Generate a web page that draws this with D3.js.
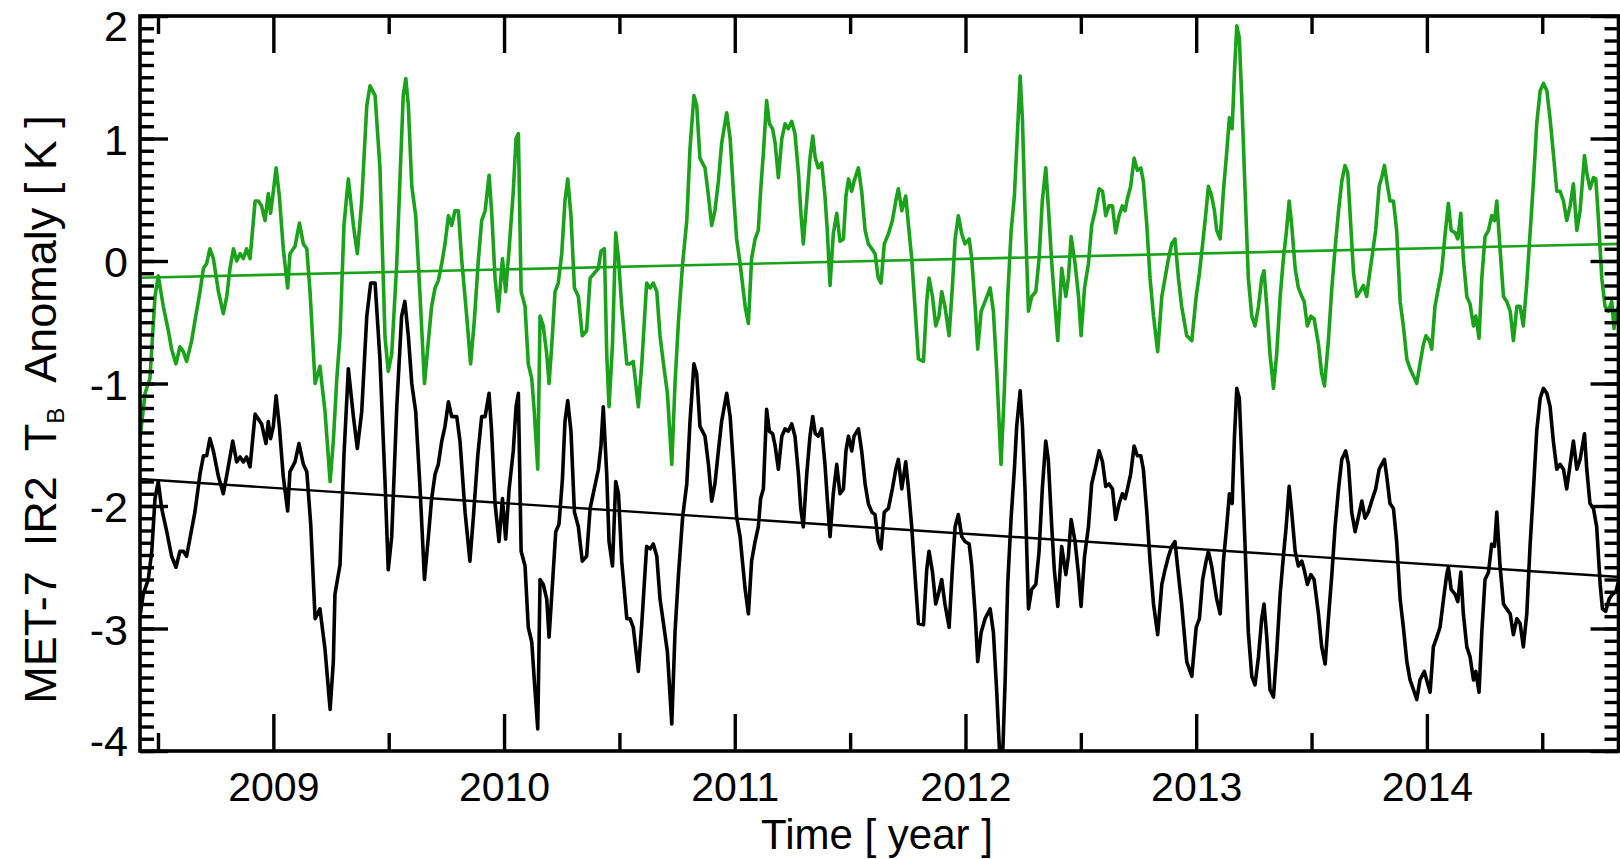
<!DOCTYPE html>
<html>
<head>
<meta charset="utf-8">
<script src="https://cdn.jsdelivr.net/npm/d3@7"></script>
<style>
  body { margin: 0; background: #fff; }
  svg { display: block; font-family: "Liberation Sans", Arial, Helvetica, sans-serif; }
</style>
</head>
<body>
<div id="chart"></div>
<script>
// [decimal year, anomaly K]
const greenSeries = [
  [2008.422,-1.45],[2008.444,-1.08],[2008.465,-0.96],[2008.487,-0.29],[2008.501,-0.12],[2008.523,-0.37],
  [2008.545,-0.57],[2008.559,-0.72],[2008.578,-0.84],[2008.595,-0.70],[2008.610,-0.74],[2008.624,-0.82],
  [2008.646,-0.65],[2008.660,-0.49],[2008.682,-0.25],[2008.697,-0.06],[2008.711,-0.02],[2008.725,0.10],
  [2008.740,0.02],[2008.762,-0.25],[2008.783,-0.43],[2008.798,-0.29],[2008.812,-0.06],[2008.827,0.10],
  [2008.841,0.00],[2008.856,0.06],[2008.870,0.02],[2008.884,0.10],[2008.899,0.02],[2008.921,0.49],
  [2008.935,0.49],[2008.949,0.45],[2008.964,0.33],[2008.978,0.55],[2008.988,0.39],[2009.000,0.57],
  [2009.012,0.76],[2009.026,0.53],[2009.043,0.10],[2009.062,-0.22],[2009.072,0.06],[2009.094,0.12],
  [2009.113,0.31],[2009.130,0.14],[2009.145,0.10],[2009.159,-0.25],[2009.181,-1.00],[2009.202,-0.86],
  [2009.224,-1.23],[2009.246,-1.80],[2009.260,-1.47],[2009.275,-0.96],[2009.289,-0.61],[2009.306,0.29],
  [2009.325,0.67],[2009.347,0.29],[2009.364,0.06],[2009.383,0.49],[2009.405,1.27],[2009.419,1.43],
  [2009.441,1.35],[2009.462,0.76],[2009.484,-0.62],[2009.498,-0.90],[2009.513,-0.76],[2009.535,-0.02],
  [2009.549,0.68],[2009.563,1.35],[2009.574,1.49],[2009.585,1.27],[2009.600,0.61],[2009.617,0.37],
  [2009.636,-0.29],[2009.655,-1.00],[2009.672,-0.65],[2009.686,-0.37],[2009.701,-0.22],[2009.715,-0.16],
  [2009.730,-0.02],[2009.744,0.14],[2009.759,0.37],[2009.773,0.29],[2009.787,0.41],[2009.802,0.41],
  [2009.816,0.02],[2009.838,-0.45],[2009.855,-0.84],[2009.871,-0.49],[2009.889,0.02],[2009.903,0.33],
  [2009.918,0.41],[2009.935,0.70],[2009.946,0.41],[2009.961,-0.14],[2009.975,-0.41],[2009.993,0.02],
  [2010.007,-0.25],[2010.022,0.10],[2010.040,0.57],[2010.052,1.00],[2010.062,1.04],[2010.074,-0.25],
  [2010.091,-0.37],[2010.105,-0.84],[2010.120,-0.96],[2010.131,-1.23],[2010.146,-1.70],[2010.156,-0.45],
  [2010.170,-0.53],[2010.185,-0.76],[2010.195,-1.00],[2010.207,-0.68],[2010.221,-0.25],[2010.235,-0.18],
  [2010.250,0.06],[2010.264,0.49],[2010.276,0.67],[2010.290,0.37],[2010.305,-0.22],[2010.322,-0.29],
  [2010.339,-0.61],[2010.358,-0.57],[2010.373,-0.14],[2010.391,-0.10],[2010.409,-0.06],[2010.420,0.08],
  [2010.435,0.10],[2010.445,-0.76],[2010.455,-1.19],[2010.470,-0.68],[2010.484,0.23],[2010.496,0.02],
  [2010.510,-0.37],[2010.532,-0.84],[2010.546,-0.84],[2010.560,-0.82],[2010.582,-1.19],[2010.597,-0.84],
  [2010.618,-0.18],[2010.633,-0.22],[2010.647,-0.18],[2010.662,-0.25],[2010.676,-0.61],[2010.691,-0.84],
  [2010.708,-1.08],[2010.727,-1.66],[2010.741,-1.00],[2010.756,-0.49],[2010.774,-0.02],[2010.792,0.33],
  [2010.806,0.92],[2010.823,1.35],[2010.835,1.27],[2010.849,0.84],[2010.871,0.76],[2010.886,0.53],
  [2010.900,0.29],[2010.914,0.41],[2010.929,0.65],[2010.943,0.96],[2010.965,1.21],[2010.980,1.00],
  [2010.994,0.57],[2011.008,0.18],[2011.023,-0.02],[2011.045,-0.37],[2011.059,-0.51],[2011.073,0.02],
  [2011.088,0.18],[2011.102,0.25],[2011.112,0.57],[2011.124,0.88],[2011.138,1.31],[2011.150,1.12],
  [2011.164,1.08],[2011.175,0.96],[2011.189,0.68],[2011.204,1.00],[2011.218,1.12],[2011.232,1.08],
  [2011.247,1.14],[2011.261,1.04],[2011.276,0.72],[2011.286,0.41],[2011.297,0.14],[2011.312,0.49],
  [2011.326,0.84],[2011.338,1.02],[2011.349,0.84],[2011.362,0.76],[2011.377,0.80],[2011.391,0.53],
  [2011.401,0.25],[2011.413,-0.20],[2011.427,0.22],[2011.442,0.39],[2011.456,0.16],[2011.471,0.18],
  [2011.482,0.53],[2011.493,0.67],[2011.507,0.57],[2011.517,0.65],[2011.536,0.76],[2011.550,0.57],
  [2011.565,0.25],[2011.579,0.14],[2011.594,0.10],[2011.608,0.06],[2011.622,-0.14],[2011.634,-0.18],
  [2011.648,0.14],[2011.666,0.22],[2011.683,0.33],[2011.698,0.49],[2011.709,0.59],[2011.724,0.41],
  [2011.741,0.53],[2011.753,0.29],[2011.767,0.02],[2011.781,-0.37],[2011.796,-0.80],[2011.818,-0.82],
  [2011.832,-0.33],[2011.842,-0.14],[2011.857,-0.29],[2011.871,-0.53],[2011.885,-0.45],[2011.897,-0.25],
  [2011.911,-0.37],[2011.929,-0.61],[2011.943,-0.22],[2011.955,0.18],[2011.969,0.37],[2011.984,0.22],
  [2011.998,0.14],[2012.016,0.18],[2012.027,0.02],[2012.042,-0.37],[2012.053,-0.72],[2012.068,-0.41],
  [2012.085,-0.33],[2012.107,-0.22],[2012.121,-0.41],[2012.135,-0.88],[2012.154,-1.66],[2012.168,-1.08],
  [2012.183,-0.29],[2012.198,0.25],[2012.212,0.53],[2012.222,0.92],[2012.237,1.51],[2012.247,1.15],
  [2012.258,0.41],[2012.273,-0.41],[2012.287,-0.29],[2012.305,-0.25],[2012.319,0.02],[2012.333,0.49],
  [2012.348,0.76],[2012.359,0.45],[2012.374,-0.02],[2012.385,-0.29],[2012.400,-0.65],[2012.417,-0.06],
  [2012.435,-0.29],[2012.446,-0.14],[2012.458,0.20],[2012.475,-0.02],[2012.490,-0.29],[2012.501,-0.61],
  [2012.516,-0.22],[2012.533,-0.02],[2012.547,0.29],[2012.562,0.41],[2012.579,0.59],[2012.594,0.57],
  [2012.608,0.37],[2012.622,0.45],[2012.637,0.45],[2012.651,0.23],[2012.666,0.37],[2012.680,0.45],
  [2012.692,0.41],[2012.702,0.51],[2012.716,0.61],[2012.731,0.84],[2012.745,0.74],[2012.760,0.76],
  [2012.771,0.65],[2012.786,0.29],[2012.800,-0.14],[2012.815,-0.45],[2012.833,-0.74],[2012.851,-0.29],
  [2012.865,-0.14],[2012.880,0.02],[2012.894,0.14],[2012.908,0.18],[2012.923,-0.14],[2012.937,-0.37],
  [2012.959,-0.61],[2012.981,-0.65],[2013.000,-0.29],[2013.014,-0.10],[2013.028,0.14],[2013.043,0.41],
  [2013.053,0.61],[2013.067,0.53],[2013.079,0.41],[2013.089,0.25],[2013.104,0.18],[2013.118,0.57],
  [2013.132,0.88],[2013.144,1.17],[2013.156,1.08],[2013.166,1.55],[2013.176,1.92],[2013.187,1.82],
  [2013.197,1.35],[2013.212,0.57],[2013.226,-0.14],[2013.241,-0.45],[2013.255,-0.53],[2013.270,-0.37],
  [2013.284,-0.14],[2013.294,-0.08],[2013.306,-0.37],[2013.320,-0.76],[2013.335,-1.04],[2013.349,-0.76],
  [2013.364,-0.29],[2013.378,0.02],[2013.390,0.22],[2013.403,0.49],[2013.414,0.29],[2013.429,-0.06],
  [2013.443,-0.22],[2013.458,-0.29],[2013.468,-0.33],[2013.482,-0.53],[2013.497,-0.45],[2013.511,-0.47],
  [2013.530,-0.68],[2013.544,-0.92],[2013.556,-1.02],[2013.573,-0.65],[2013.588,-0.22],[2013.602,0.10],
  [2013.617,0.41],[2013.631,0.65],[2013.645,0.78],[2013.657,0.72],[2013.670,0.29],[2013.682,-0.10],
  [2013.696,-0.29],[2013.710,-0.25],[2013.725,-0.20],[2013.739,-0.29],[2013.746,-0.18],[2013.764,0.06],
  [2013.778,0.25],[2013.793,0.61],[2013.804,0.68],[2013.816,0.78],[2013.826,0.65],[2013.840,0.49],
  [2013.855,0.49],[2013.869,0.25],[2013.884,-0.33],[2013.898,-0.53],[2013.913,-0.80],[2013.927,-0.88],
  [2013.942,-0.94],[2013.956,-1.00],[2013.970,-0.84],[2013.985,-0.68],[2013.996,-0.61],[2014.011,-0.65],
  [2014.021,-0.72],[2014.035,-0.37],[2014.050,-0.22],[2014.064,-0.08],[2014.079,0.22],[2014.093,0.47],
  [2014.105,0.25],[2014.122,0.23],[2014.134,0.18],[2014.147,0.39],[2014.158,0.02],[2014.173,-0.29],
  [2014.187,-0.35],[2014.202,-0.53],[2014.212,-0.45],[2014.226,-0.63],[2014.238,-0.14],[2014.252,0.20],
  [2014.267,0.25],[2014.281,0.37],[2014.293,0.33],[2014.303,0.49],[2014.317,0.10],[2014.332,-0.29],
  [2014.346,-0.33],[2014.361,-0.41],[2014.375,-0.65],[2014.390,-0.37],[2014.404,-0.37],[2014.418,-0.53],
  [2014.433,-0.18],[2014.447,0.22],[2014.462,0.65],[2014.476,1.12],[2014.491,1.39],[2014.505,1.45],
  [2014.520,1.39],[2014.534,1.16],[2014.548,0.88],[2014.563,0.57],[2014.577,0.57],[2014.592,0.49],
  [2014.606,0.33],[2014.621,0.45],[2014.635,0.63],[2014.650,0.25],[2014.664,0.41],[2014.683,0.86],
  [2014.693,0.72],[2014.707,0.59],[2014.722,0.68],[2014.732,0.67],[2014.744,0.33],[2014.758,-0.14],
  [2014.772,-0.37],[2014.787,-0.41],[2014.801,-0.33],[2014.811,-0.55],[2014.823,-0.40],[2014.837,-0.35]
];

const blackSeries = [
  [2008.422,-2.90],[2008.436,-2.72],[2008.458,-2.60],[2008.473,-2.37],[2008.487,-1.94],[2008.501,-1.80],
  [2008.516,-2.02],[2008.538,-2.21],[2008.559,-2.41],[2008.578,-2.50],[2008.595,-2.37],[2008.610,-2.37],
  [2008.624,-2.41],[2008.646,-2.19],[2008.660,-2.05],[2008.682,-1.74],[2008.697,-1.59],[2008.711,-1.59],
  [2008.725,-1.45],[2008.740,-1.55],[2008.762,-1.76],[2008.783,-1.90],[2008.801,-1.72],[2008.824,-1.47],
  [2008.841,-1.64],[2008.856,-1.60],[2008.870,-1.64],[2008.884,-1.60],[2008.899,-1.68],[2008.921,-1.25],
  [2008.935,-1.29],[2008.949,-1.33],[2008.968,-1.49],[2008.978,-1.31],[2008.988,-1.45],[2009.000,-1.35],
  [2009.012,-1.10],[2009.026,-1.35],[2009.043,-1.76],[2009.062,-2.04],[2009.072,-1.72],[2009.094,-1.64],
  [2009.111,-1.49],[2009.130,-1.66],[2009.145,-1.72],[2009.162,-2.15],[2009.181,-2.92],[2009.202,-2.84],
  [2009.224,-3.17],[2009.246,-3.66],[2009.260,-3.27],[2009.267,-2.72],[2009.289,-2.48],[2009.306,-1.59],
  [2009.325,-0.88],[2009.347,-1.27],[2009.364,-1.53],[2009.383,-1.23],[2009.405,-0.45],[2009.422,-0.18],
  [2009.441,-0.18],[2009.462,-0.80],[2009.484,-1.80],[2009.498,-2.52],[2009.513,-2.25],[2009.535,-1.19],
  [2009.556,-0.45],[2009.570,-0.33],[2009.585,-0.61],[2009.600,-1.00],[2009.617,-1.23],[2009.636,-1.86],
  [2009.655,-2.60],[2009.672,-2.25],[2009.686,-1.94],[2009.701,-1.74],[2009.715,-1.66],[2009.730,-1.47],
  [2009.744,-1.35],[2009.759,-1.15],[2009.773,-1.27],[2009.795,-1.27],[2009.809,-1.47],[2009.831,-2.05],
  [2009.852,-2.45],[2009.867,-2.09],[2009.886,-1.59],[2009.903,-1.27],[2009.918,-1.27],[2009.935,-1.08],
  [2009.946,-1.39],[2009.961,-1.98],[2009.978,-2.29],[2009.993,-1.94],[2010.007,-2.27],[2010.022,-1.86],
  [2010.040,-1.55],[2010.052,-1.19],[2010.062,-1.08],[2010.074,-2.37],[2010.091,-2.49],[2010.105,-2.99],
  [2010.120,-3.11],[2010.131,-3.42],[2010.146,-3.82],[2010.156,-2.60],[2010.170,-2.64],[2010.185,-2.76],
  [2010.195,-3.07],[2010.207,-2.72],[2010.224,-2.21],[2010.238,-2.15],[2010.253,-1.78],[2010.264,-1.31],
  [2010.276,-1.14],[2010.290,-1.39],[2010.305,-2.05],[2010.322,-2.17],[2010.339,-2.45],[2010.358,-2.41],
  [2010.373,-2.02],[2010.391,-1.86],[2010.409,-1.70],[2010.420,-1.51],[2010.430,-1.19],[2010.445,-1.74],
  [2010.455,-2.29],[2010.470,-2.49],[2010.484,-1.80],[2010.496,-1.90],[2010.510,-2.45],[2010.532,-2.92],
  [2010.546,-2.92],[2010.560,-2.99],[2010.582,-3.35],[2010.597,-2.96],[2010.618,-2.33],[2010.633,-2.35],
  [2010.647,-2.31],[2010.662,-2.41],[2010.676,-2.76],[2010.691,-2.96],[2010.708,-3.19],[2010.727,-3.78],
  [2010.741,-3.03],[2010.756,-2.56],[2010.774,-2.09],[2010.792,-1.82],[2010.806,-1.31],[2010.823,-0.84],
  [2010.835,-0.92],[2010.849,-1.35],[2010.871,-1.43],[2010.886,-1.66],[2010.900,-1.96],[2010.914,-1.82],
  [2010.929,-1.55],[2010.943,-1.31],[2010.965,-1.08],[2010.980,-1.27],[2010.994,-1.66],[2011.008,-2.09],
  [2011.023,-2.25],[2011.045,-2.68],[2011.059,-2.88],[2011.073,-2.45],[2011.088,-2.29],[2011.102,-2.17],
  [2011.112,-1.94],[2011.124,-1.86],[2011.138,-1.21],[2011.150,-1.39],[2011.164,-1.41],[2011.175,-1.51],
  [2011.189,-1.70],[2011.204,-1.43],[2011.218,-1.37],[2011.232,-1.39],[2011.247,-1.33],[2011.261,-1.43],
  [2011.276,-1.74],[2011.286,-2.02],[2011.297,-2.17],[2011.312,-1.74],[2011.326,-1.43],[2011.338,-1.27],
  [2011.349,-1.41],[2011.362,-1.43],[2011.377,-1.37],[2011.391,-1.66],[2011.401,-1.94],[2011.413,-2.25],
  [2011.427,-1.90],[2011.442,-1.66],[2011.456,-1.90],[2011.471,-1.86],[2011.482,-1.55],[2011.493,-1.43],
  [2011.507,-1.55],[2011.517,-1.43],[2011.536,-1.37],[2011.550,-1.55],[2011.565,-1.82],[2011.579,-1.98],
  [2011.594,-2.05],[2011.608,-2.07],[2011.622,-2.29],[2011.634,-2.35],[2011.648,-2.05],[2011.666,-2.02],
  [2011.683,-1.86],[2011.698,-1.70],[2011.709,-1.62],[2011.724,-1.86],[2011.741,-1.64],[2011.753,-1.86],
  [2011.767,-2.17],[2011.781,-2.56],[2011.796,-2.96],[2011.818,-2.97],[2011.832,-2.52],[2011.842,-2.37],
  [2011.857,-2.54],[2011.871,-2.80],[2011.885,-2.70],[2011.897,-2.60],[2011.911,-2.80],[2011.929,-2.99],
  [2011.943,-2.52],[2011.955,-2.17],[2011.969,-2.07],[2011.984,-2.25],[2011.998,-2.29],[2012.016,-2.31],
  [2012.027,-2.49],[2012.042,-2.88],[2012.053,-3.27],[2012.068,-3.03],[2012.085,-2.92],[2012.107,-2.84],
  [2012.121,-3.03],[2012.135,-3.50],[2012.150,-4.10],[2012.160,-4.10],[2012.172,-3.42],[2012.183,-2.64],
  [2012.198,-2.09],[2012.212,-1.70],[2012.222,-1.35],[2012.237,-1.06],[2012.247,-1.35],[2012.258,-1.86],
  [2012.273,-2.84],[2012.287,-2.68],[2012.305,-2.64],[2012.319,-2.37],[2012.333,-1.86],[2012.348,-1.47],
  [2012.359,-1.62],[2012.374,-2.17],[2012.385,-2.52],[2012.400,-2.82],[2012.417,-2.33],[2012.435,-2.56],
  [2012.446,-2.41],[2012.458,-2.11],[2012.475,-2.29],[2012.490,-2.56],[2012.501,-2.82],[2012.516,-2.41],
  [2012.533,-2.17],[2012.547,-1.82],[2012.562,-1.70],[2012.579,-1.55],[2012.594,-1.64],[2012.608,-1.84],
  [2012.622,-1.82],[2012.637,-1.86],[2012.651,-2.11],[2012.666,-1.98],[2012.680,-1.90],[2012.692,-1.94],
  [2012.702,-1.86],[2012.716,-1.74],[2012.731,-1.51],[2012.745,-1.59],[2012.760,-1.59],[2012.771,-1.70],
  [2012.786,-2.05],[2012.800,-2.45],[2012.815,-2.80],[2012.833,-3.05],[2012.851,-2.64],[2012.865,-2.52],
  [2012.880,-2.41],[2012.894,-2.33],[2012.908,-2.29],[2012.923,-2.56],[2012.937,-2.80],[2012.959,-3.27],
  [2012.981,-3.39],[2013.000,-2.99],[2013.014,-2.92],[2013.028,-2.60],[2013.043,-2.45],[2013.053,-2.37],
  [2013.067,-2.49],[2013.079,-2.64],[2013.089,-2.76],[2013.104,-2.88],[2013.118,-2.45],[2013.132,-2.17],
  [2013.144,-1.90],[2013.156,-1.98],[2013.166,-1.43],[2013.176,-1.04],[2013.187,-1.12],[2013.197,-1.59],
  [2013.212,-2.33],[2013.226,-3.03],[2013.241,-3.39],[2013.255,-3.46],[2013.270,-3.23],[2013.284,-2.92],
  [2013.294,-2.80],[2013.306,-3.07],[2013.320,-3.50],[2013.335,-3.56],[2013.349,-3.19],[2013.364,-2.72],
  [2013.378,-2.41],[2013.390,-2.17],[2013.403,-1.84],[2013.414,-2.05],[2013.429,-2.37],[2013.443,-2.49],
  [2013.458,-2.45],[2013.468,-2.52],[2013.482,-2.64],[2013.497,-2.56],[2013.511,-2.60],[2013.530,-2.88],
  [2013.544,-3.15],[2013.559,-3.29],[2013.573,-2.92],[2013.588,-2.56],[2013.602,-2.17],[2013.617,-1.86],
  [2013.631,-1.62],[2013.648,-1.55],[2013.660,-1.66],[2013.674,-2.05],[2013.689,-2.21],[2013.703,-2.09],
  [2013.718,-1.96],[2013.732,-2.10],[2013.746,-2.05],[2013.764,-1.94],[2013.778,-1.86],[2013.793,-1.70],
  [2013.804,-1.66],[2013.816,-1.62],[2013.826,-1.76],[2013.840,-1.98],[2013.855,-2.02],[2013.869,-2.29],
  [2013.884,-2.76],[2013.898,-2.99],[2013.913,-3.27],[2013.927,-3.42],[2013.942,-3.50],[2013.956,-3.58],
  [2013.970,-3.42],[2013.989,-3.35],[2013.999,-3.42],[2014.014,-3.52],[2014.028,-3.15],[2014.043,-3.07],
  [2014.057,-2.99],[2014.072,-2.76],[2014.086,-2.56],[2014.093,-2.50],[2014.105,-2.68],[2014.122,-2.72],
  [2014.134,-2.78],[2014.147,-2.54],[2014.158,-2.88],[2014.173,-3.15],[2014.187,-3.23],[2014.202,-3.42],
  [2014.212,-3.35],[2014.226,-3.52],[2014.238,-3.03],[2014.252,-2.60],[2014.267,-2.54],[2014.281,-2.31],
  [2014.293,-2.33],[2014.303,-2.05],[2014.317,-2.49],[2014.332,-2.80],[2014.346,-2.84],[2014.361,-2.88],
  [2014.375,-3.05],[2014.390,-2.92],[2014.404,-2.96],[2014.418,-3.15],[2014.433,-2.88],[2014.447,-2.33],
  [2014.462,-1.86],[2014.476,-1.39],[2014.491,-1.12],[2014.505,-1.04],[2014.520,-1.08],[2014.534,-1.19],
  [2014.548,-1.47],[2014.563,-1.70],[2014.577,-1.66],[2014.592,-1.70],[2014.606,-1.86],[2014.621,-1.66],
  [2014.635,-1.47],[2014.650,-1.70],[2014.664,-1.62],[2014.683,-1.41],[2014.693,-1.70],[2014.707,-1.98],
  [2014.722,-2.02],[2014.736,-2.17],[2014.751,-2.64],[2014.761,-2.84],[2014.775,-2.86],[2014.790,-2.76],
  [2014.804,-2.72],[2014.819,-2.70],[2014.830,-2.62],[2014.837,-2.60]
];

// linear trend lines, value at start and end of the record
const trendYears = [2008.422, 2014.837];
const greenTrend = [-0.137, 0.14];
const blackTrend = [-1.78, -2.58];

const yearTicks = [2009, 2010, 2011, 2012, 2013, 2014];
const halfYearTicks = [2008.5, 2009.5, 2010.5, 2011.5, 2012.5, 2013.5, 2014.5];
const valueTicks = [-4, -3, -2, -1, 0, 1, 2];

const xLabel = "Time [ year ]";
const yLabelParts = ["MET-7\u00a0\u00a0IR2\u00a0\u00a0T", "B", "\u00a0\u00a0Anomaly [ K ]"];

const W = 1620, H = 859;
const margin = { top: 16, right: 0, bottom: 108, left: 140 };

const x = d3.scaleLinear().domain(trendYears).range([margin.left, W - margin.right]);
const y = d3.scaleLinear().domain([-4, 2]).range([H - margin.bottom, margin.top]);

const svg = d3.select("#chart").append("svg")
  .attr("width", W)
  .attr("height", H);

svg.append("clipPath").attr("id", "plotClip")
  .append("rect")
  .attr("x", x.range()[0]).attr("y", y.range()[1])
  .attr("width", x.range()[1] - x.range()[0])
  .attr("height", y.range()[0] - y.range()[1]);

const plot = svg.append("g").attr("clip-path", "url(#plotClip)");

const line = d3.line().x(d => x(d[0])).y(d => y(d[1]));

plot.append("path")
  .datum(greenSeries)
  .attr("fill", "none")
  .attr("stroke", "#1ba21b")
  .attr("stroke-width", 3.6)
  .attr("stroke-linejoin", "round")
  .attr("d", line);

plot.append("path")
  .datum(blackSeries)
  .attr("fill", "none")
  .attr("stroke", "#000")
  .attr("stroke-width", 3.6)
  .attr("stroke-linejoin", "round")
  .attr("d", line);

plot.append("path")
  .datum(trendYears.map((t, i) => [t, greenTrend[i]]))
  .attr("fill", "none")
  .attr("stroke", "#1ba21b")
  .attr("stroke-width", 2.6)
  .attr("d", line);

plot.append("path")
  .datum(trendYears.map((t, i) => [t, blackTrend[i]]))
  .attr("fill", "none")
  .attr("stroke", "#000")
  .attr("stroke-width", 2.4)
  .attr("d", line);

// axes: inward ticks on all four sides
const tickW = 3.4;
const styleAxis = g => {
  g.select(".domain").remove();
  g.selectAll(".tick line").attr("stroke", "#000").attr("stroke-width", tickW);
  g.selectAll(".tick text").attr("fill", "#000");
};

const bottomY = y.range()[0], topY = y.range()[1];
const leftX = x.range()[0], rightX = W - 1.5;

svg.append("g")
  .attr("transform", `translate(0,${bottomY})`)
  .call(d3.axisBottom(x).tickValues(yearTicks).tickFormat(d3.format("d")).tickSize(-37).tickPadding(21))
  .call(styleAxis)
  .call(g => g.selectAll("text").attr("font-size", 41).attr("font-family", null));

svg.append("g")
  .attr("transform", `translate(0,${bottomY})`)
  .call(d3.axisBottom(x).tickValues(halfYearTicks).tickFormat("").tickSize(-18))
  .call(styleAxis);

svg.append("g")
  .attr("transform", `translate(0,${topY})`)
  .call(d3.axisTop(x).tickValues(yearTicks).tickFormat("").tickSize(-37))
  .call(styleAxis);

svg.append("g")
  .attr("transform", `translate(0,${topY})`)
  .call(d3.axisTop(x).tickValues(halfYearTicks).tickFormat("").tickSize(-18))
  .call(styleAxis);

const minorValues = d3.range(-40, 21).map(i => i / 10);

svg.append("g")
  .attr("transform", `translate(${leftX},0)`)
  .call(d3.axisLeft(y).tickValues(valueTicks).tickFormat(d3.format("d")).tickSize(-28).tickPadding(12))
  .call(styleAxis)
  .call(g => g.selectAll("text")
    .attr("font-size", 43)
    .attr("font-family", null)
    .text(d => String(d).replace("\u2212", "-"))
    .attr("dy", d => d === 2 ? "0.56em" : d === -4 ? "0.1em" : "0.37em"));

svg.append("g")
  .attr("transform", `translate(${leftX},0)`)
  .call(d3.axisLeft(y).tickValues(minorValues).tickFormat("").tickSize(-14))
  .call(styleAxis);

svg.append("g")
  .attr("transform", `translate(${rightX},0)`)
  .call(d3.axisRight(y).tickValues(valueTicks).tickFormat("").tickSize(-28))
  .call(styleAxis);

svg.append("g")
  .attr("transform", `translate(${rightX},0)`)
  .call(d3.axisRight(y).tickValues(minorValues).tickFormat("").tickSize(-14))
  .call(styleAxis);

// frame
svg.append("rect")
  .attr("x", leftX).attr("y", topY)
  .attr("width", rightX - leftX).attr("height", bottomY - topY)
  .attr("fill", "none")
  .attr("stroke", "#000")
  .attr("stroke-width", 3.6);

svg.append("text")
  .attr("x", (leftX + W) / 2 - 3)
  .attr("y", 849)
  .attr("text-anchor", "middle")
  .attr("font-size", 42)
  .text(xLabel);

const yt = svg.append("text")
  .attr("transform", `translate(56,${(topY + bottomY) / 2 + 26}) rotate(-90)`)
  .attr("text-anchor", "middle")
  .attr("font-size", 45);
yt.append("tspan").text(yLabelParts[0]);
yt.append("tspan").attr("font-size", 24).attr("dy", 8).text(yLabelParts[1]);
yt.append("tspan").attr("dy", -8).text(yLabelParts[2]);
</script>
</body>
</html>
